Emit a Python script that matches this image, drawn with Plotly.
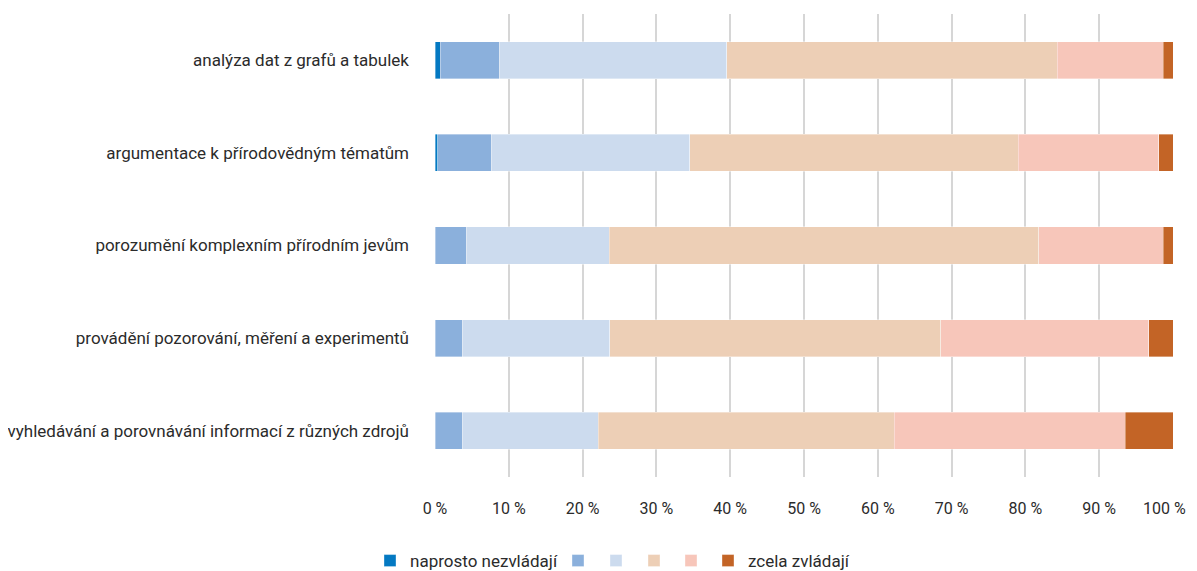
import plotly.graph_objects as go

categories = [
    "analýza dat z grafů a tabulek",
    "argumentace k přírodovědným tématům",
    "porozumění komplexním přírodním jevům",
    "provádění pozorování, měření a experimentů",
    "vyhledávání a porovnávání informací z různých zdrojů",
]

series_names = ["naprosto nezvládají", "", "", "", "", "zcela zvládají"]
series_colors = ["#0479c2", "#8bb0dc", "#ccdbee", "#edcfb6", "#f7c6ba", "#c36426"]

s1 = [0.7, 0.4, 0.0, 0.0, 0.0]
s2 = [8.0, 7.2, 4.2, 3.7, 3.7]
s3 = [30.8, 26.9, 19.4, 20.0, 18.4]
s4 = [44.8, 44.5, 58.2, 44.8, 40.1]
s5 = [14.4, 19.1, 16.9, 28.2, 31.3]
s6 = [1.3, 1.9, 1.3, 3.3, 6.5]
series_values = [s1, s2, s3, s4, s5, s6]

tick_vals = [0, 10, 20, 30, 40, 50, 60, 70, 80, 90, 100]
tick_text = ["0 %", "10 %", "20 %", "30 %", "40 %", "50 %",
             "60 %", "70 %", "80 %", "90 %", "100 %"]

FONT = "Roboto, Liberation Sans, sans-serif"
TXT = "#2b2b2b"
FS = 17

# page body has an 8px margin; the figure is offset by it
W, H = 1197, 571

# one legend box per entry so the spacing matches the reference
legend_ids = ["legend", "legend2", "legend3", "legend4", "legend5", "legend6"]
legend_left_px = [362, 550, 588, 626, 663, 700]

fig = go.Figure()
for name, color, vals, lid in zip(series_names, series_colors, series_values, legend_ids):
    fig.add_trace(go.Bar(
        y=categories, x=vals, name=name, orientation="h", legend=lid,
        marker=dict(color=color, line=dict(color="rgba(255,255,255,0.6)", width=0.6)),
        hoverinfo="x+y",
    ))

legend_layout = {}
for lid, px in zip(legend_ids, legend_left_px):
    legend_layout[lid] = dict(
        orientation="h", xref="container", yref="container",
        x=px / W, xanchor="left", y=0.0, yanchor="bottom",
        font=dict(family=FONT, size=FS, color=TXT), itemwidth=30,
        bgcolor="rgba(0,0,0,0)",
    )

# the last tick label would overflow the visible page edge, so it is drawn
# as a right-aligned annotation anchored at the same axis value
axis_ticktext = tick_text[:-1] + [""]

fig.update_layout(
    width=W, height=H,
    barmode="stack", bargap=0.6,
    plot_bgcolor="white", paper_bgcolor="white",
    margin=dict(l=427, r=32, t=6, b=102),
    font=dict(family=FONT, size=FS, color=TXT),
    showlegend=True,
    xaxis=dict(
        range=[0, 100], tickvals=tick_vals, ticktext=axis_ticktext,
        showgrid=True, gridcolor="#d6d6d6", gridwidth=2, zeroline=False,
        showline=False, ticks="", ticklabelstandoff=20, automargin=False,
        ticklabeloverflow="allow",
        tickfont=dict(family=FONT, size=16, color=TXT), fixedrange=True,
    ),
    yaxis=dict(
        autorange="reversed", showgrid=False, zeroline=False, showline=False,
        ticks="", ticklabelstandoff=25, automargin=False,
        tickfont=dict(family=FONT, size=FS, color=TXT),
    ),
    annotations=[dict(
        x=tick_vals[-1], xref="x", y=0, yref="paper",
        text=tick_text[-1], showarrow=False,
        xanchor="right", xshift=15, yanchor="middle", yshift=-31,
        font=dict(family=FONT, size=16, color=TXT),
    )],
    **legend_layout,
)

fig.write_html("out.html")
